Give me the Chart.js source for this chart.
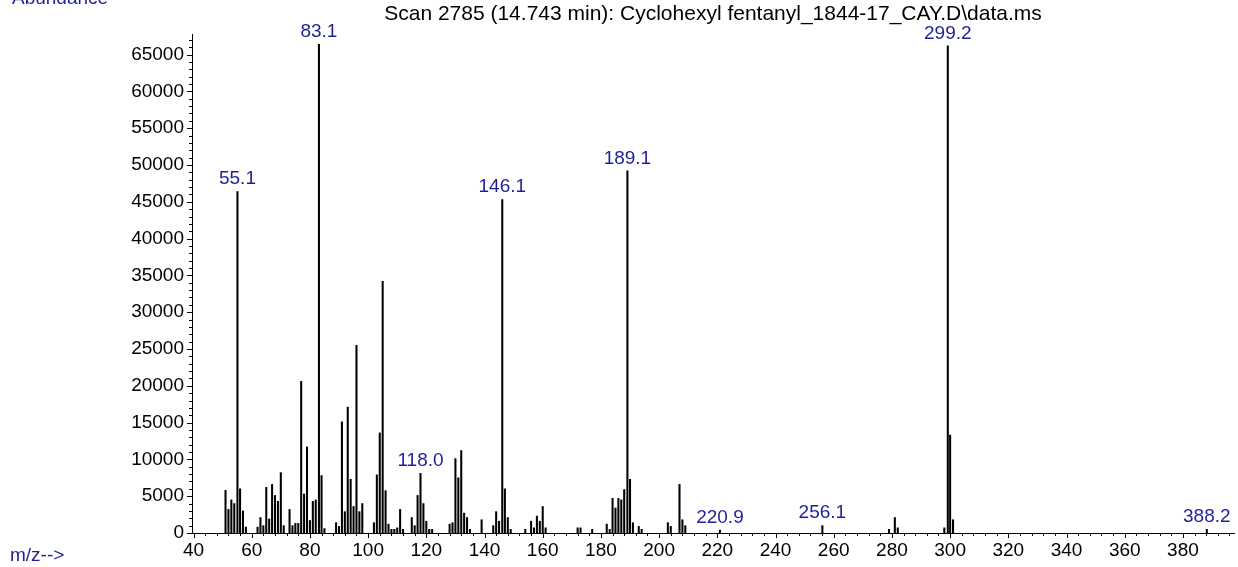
<!DOCTYPE html>
<html>
<head>
<meta charset="utf-8">
<script src="https://cdn.jsdelivr.net/npm/chart.js@4.4.1/dist/chart.umd.min.js"></script>
<style>
  html, body { margin: 0; padding: 0; background: #fff; }
  canvas { display: block; }
</style>
</head>
<body>
<canvas id="espectro" width="1238" height="567"></canvas>
<script>
const titulo = 'Scan 2785 (14.743 min): Cyclohexyl fentanyl_1844-17_CAY.D\\data.ms';

// m/z dos picos e abundancias
const mz = [
  51, 52, 53, 54, 55.1, 56, 57, 58, 62, 63, 64, 65, 66, 67, 68, 69, 70, 71,
  73, 74, 75, 76, 77, 78, 79, 80, 81, 82, 83.1, 84, 85,
  89, 90, 91, 92, 93, 94, 95, 96, 97, 98, 102, 103, 104, 105, 106, 107, 108, 109, 110, 111, 112,
  115, 116, 117, 118.0, 119, 120, 121, 122, 128, 129, 130, 131, 132, 133, 134, 135,
  139, 143, 144, 145, 146.1, 147, 148, 149, 154, 156, 157, 158, 159, 160, 161,
  172, 173, 177, 182, 183, 184, 185, 186, 187, 188, 189.1, 190, 191, 193, 194,
  203, 204, 207, 208, 209, 220.9, 256.1, 279, 281, 282, 298, 299.2, 300, 301, 388.2
];
const abundancia = [
  5800, 3200, 4500, 4000, 46400, 6000, 3000, 800, 800, 2100, 1000, 6200, 1900, 6600, 5100, 4300, 8200, 1000,
  3200, 1000, 1300, 1300, 20600, 5300, 11700, 1700, 4300, 4500, 66400, 7800, 600,
  1400, 900, 15100, 2900, 17100, 7300, 3600, 25500, 2900, 4000, 1400, 7900, 13600, 34200, 5750, 1200, 500, 500, 700, 3200, 500,
  2100, 1000, 5100, 8100, 4000, 1600, 500, 500, 1200, 1400, 10100, 7500, 11200, 2700, 2100, 500,
  1800, 1000, 2900, 1600, 45300, 6000, 2100, 500, 500, 1600, 700, 2300, 1600, 3600, 700,
  700, 700, 500, 1200, 500, 4700, 3400, 4700, 4500, 5900, 49200, 7300, 1400, 900, 500,
  1400, 900, 6600, 1800, 1000, 400, 1000, 500, 2100, 700, 700, 66200, 13300, 1800, 500
];
const rotulosPicos = ['55.1', '83.1', '118.0', '146.1', '189.1', '220.9', '256.1', '299.2', '388.2'];
const rotulosX = [40, 60, 80, 100, 120, 140, 160, 180, 200, 220, 240, 260, 280, 300, 320, 340, 360, 380];
const rotulosY = [0, 5000, 10000, 15000, 20000, 25000, 30000, 35000, 40000, 45000, 50000, 55000, 60000, 65000];

const fonte = "'Liberation Sans', Arial, sans-serif";
const azul = '#1f1f99';

// marcas menores: x a cada 4, y a cada 1000
const marcasX = [];
for (let v = 40; v <= 396; v += 4) marcasX.push(v);
const marcasY = [];
for (let v = 0; v <= 67000; v += 1000) marcasY.push(v);

const pontos = mz.map((m, i) => ({ x: m, y: abundancia[i] }));

const extras = {
  id: 'extras',
  afterDraw(chart) {
    const { ctx, chartArea, scales: { x, y } } = chart;
    ctx.save();
    ctx.strokeStyle = '#000';
    ctx.lineWidth = 1;
    x.ticks.forEach(t => {
      const px = Math.round(x.getPixelForValue(t.value)) + 0.5;
      const len = rotulosX.includes(t.value) ? 5 : 3;
      ctx.beginPath();
      ctx.moveTo(px, chartArea.bottom);
      ctx.lineTo(px, chartArea.bottom + len);
      ctx.stroke();
    });
    y.ticks.forEach(t => {
      const py = Math.round(y.getPixelForValue(t.value)) + 0.5;
      const len = rotulosY.includes(t.value) ? 5 : 3;
      ctx.beginPath();
      ctx.moveTo(chartArea.left, py);
      ctx.lineTo(chartArea.left - len, py);
      ctx.stroke();
    });

    // rotulos dos picos
    ctx.font = '19px ' + fonte;
    ctx.fillStyle = azul;
    ctx.textAlign = 'center';
    ctx.textBaseline = 'bottom';
    rotulosPicos.forEach(r => {
      const m = parseFloat(r);
      const i = mz.indexOf(m);
      if (i < 0) return;
      ctx.fillText(r, x.getPixelForValue(m), y.getPixelForValue(abundancia[i]) - 3);
    });

    // titulo e textos dos eixos
    ctx.fillStyle = '#000';
    ctx.textBaseline = 'middle';
    ctx.font = '21px ' + fonte;
    ctx.fillText(titulo, (chartArea.left + chartArea.right) / 2, 14);
    ctx.font = '19px ' + fonte;
    ctx.fillStyle = azul;
    ctx.textAlign = 'left';
    ctx.textBaseline = 'alphabetic';
    ctx.fillText('Abundance', 12, 4);
    ctx.fillText('m/z-->', 10, 561);
    ctx.restore();
  }
};

new Chart(document.getElementById('espectro').getContext('2d'), {
  type: 'bar',
  data: {
    datasets: [{
      data: pontos,
      backgroundColor: '#000',
      borderWidth: 0,
      barThickness: 1.4
    }]
  },
  options: {
    responsive: false,
    animation: false,
    devicePixelRatio: 1,
    layout: { padding: { top: 34, right: 4, left: 0, bottom: 0 } },
    plugins: { legend: { display: false }, tooltip: { enabled: false }, title: { display: false } },
    scales: {
      x: {
        type: 'linear',
        offset: false,
        min: 39.48,
        max: 397.55,
        afterBuildTicks: s => { s.ticks = marcasX.map(v => ({ value: v })); },
        afterFit: s => { s.height = 34; },
        grid: { display: false, drawTicks: false },
        border: { display: true, color: '#000', width: 1 },
        ticks: {
          autoSkip: false,
          maxRotation: 0,
          padding: 6,
          color: '#000',
          font: { family: fonte, size: 19 },
          callback: v => rotulosX.includes(v) ? String(v) : ''
        }
      },
      y: {
        min: 0,
        max: 67800,
        afterBuildTicks: s => { s.ticks = marcasY.map(v => ({ value: v })); },
        afterFit: s => { s.width = 192; },
        grid: { display: false, drawTicks: false },
        border: { display: true, color: '#000', width: 1 },
        ticks: {
          autoSkip: false,
          padding: 8,
          color: '#000',
          font: { family: fonte, size: 19 },
          callback: v => rotulosY.includes(v) ? String(v) : ''
        }
      }
    }
  },
  plugins: [extras]
});
</script>
</body>
</html>
